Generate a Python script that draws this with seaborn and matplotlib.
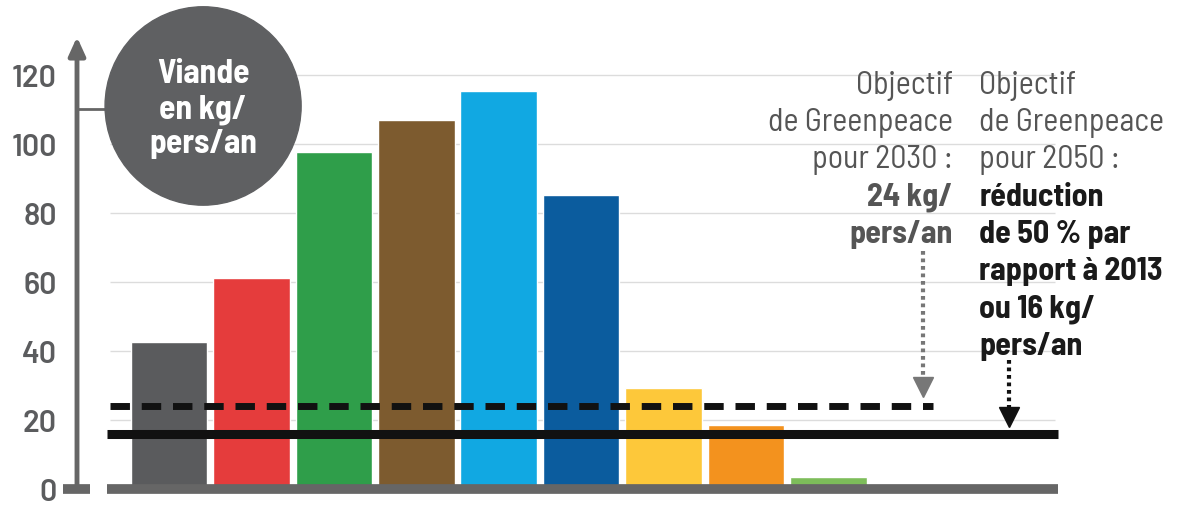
import numpy as np
import pandas as pd
import seaborn as sb
import matplotlib
matplotlib.use('Agg')
import matplotlib.pyplot as plt
from matplotlib.patches import Ellipse

# bar values (kg/pers/an)
categories = ['c1', 'c2', 'c3', 'c4', 'c5', 'c6', 'c7', 'c8', 'c9']
values = [42.6, 61.2, 97.7, 107, 115.4, 85.2, 29.3, 18.6, 3.5]
bar_colors = ['#5a5b5d', '#e53c3c', '#2f9e4a', '#7d5b2f', '#11a8e2',
              '#0b5c9e', '#fdc83a', '#f3921e', '#7dbd5a']
y_ticks = [0, 20, 40, 60, 80, 100, 120]
goal_2030 = 24
goal_2050 = 16
circle_lines = ["Viande", "en kg/", "pers/an"]
lines_2030 = ["Objectif", "de Greenpeace", "pour 2030 :", "24 kg/", "pers/an"]
lines_2050 = ["Objectif", "de Greenpeace", "pour 2050 :", "réduction",
              "de 50 % par", "rapport à 2013", "ou 16 kg/", "pers/an"]

sb.set_style("white")
plt.rcParams['font.family'] = ['Barlow Semi Condensed', 'DejaVu Sans']

grey = '#5f6062'
df = pd.DataFrame({'cat': categories, 'val': values})

fig = plt.figure(figsize=(11.82, 5.06), dpi=100)
ax = fig.add_axes([77 / 1182, 0, 983 / 1182, 1])

# grid lines
ax.hlines(y_ticks[1:], -0.716, 10.75, color='#dcdcdc', lw=1, zorder=0)

sb.barplot(data=df, x='cat', y='val', hue='cat', palette=bar_colors,
           width=0.93, legend=False, saturation=1, ax=ax, zorder=2)
x0, x1 = -1.117, 10.81
ax.set_xlim(x0, x1)
ax.set_ylim(-4.64, 142.0)

# baseline
ax.plot([-0.75, 10.79], [0, 0], color='#666666', lw=7, solid_capstyle='butt', zorder=3)

# goal lines
ax.plot([-0.72, 9.27], [goal_2030, goal_2030], color='#111111', lw=5,
        dashes=(2.8, 1.7), zorder=4)
ax.plot([-0.75, 10.79], [goal_2050, goal_2050], color='#111111', lw=6.5,
        solid_capstyle='butt', zorder=4)

# y axis with arrow
ax.annotate('', xy=(x0, 131), xytext=(x0, 0),
            arrowprops=dict(arrowstyle='-|>,head_width=0.5,head_length=1.1',
                            color='#666666', lw=3.5, shrinkA=0, shrinkB=0),
            annotation_clip=False, zorder=5)
ax.set_yticks(y_ticks)
ax.set_yticklabels([str(t) for t in y_ticks], fontsize=22, color='#5b5c5e',
                   fontweight='semibold', family=['Barlow', 'DejaVu Sans'])
ax.tick_params(axis='y', direction='inout', length=19, width=1, color='#d0d0d0', pad=5)
ax.set_xticks([])
ax.set_xlabel('')
ax.set_ylabel('')
for s in ax.spines.values():
    s.set_visible(False)
# thick zero tick
ax.plot([x0 - 0.17, x0 + 0.16], [0, 0], color='#666666', lw=7,
        solid_capstyle='butt', clip_on=False, zorder=5)

# label circle
ax.plot([x0, 0.413], [110, 110], color='#666666', lw=2, zorder=5)
ax.add_patch(Ellipse((0.413, 111.0), 2.379, 57.5, color=grey, zorder=6))
for i, t in enumerate(circle_lines):
    ax.text(0.413, 117.9 - i * 10.1, t, color='white', fontsize=24, fontweight='bold',
            ha='center', va='baseline', zorder=7)

# annotation texts, one line at a time
top, step = 114.8, 10.8
for i, t in enumerate(lines_2030):
    bold = i >= 3
    ax.text(9.51, top - i * step, t, ha='right', va='baseline', fontsize=23,
            color='#555555', fontweight='bold' if bold else 'normal')
for i, t in enumerate(lines_2050):
    bold = i >= 3
    ax.text(9.83, top - i * step, t, ha='left', va='baseline', fontsize=23,
            color='#1a1a1a' if bold else '#555555',
            fontweight='bold' if bold else 'normal')

# dotted arrows
ax.plot([9.15, 9.15], [69, 29], color='#777777', lw=3, dashes=(0.9, 0.9), zorder=4)
ax.plot([9.15], [29.5], marker='v', color='#777777', markersize=15, zorder=5)
ax.plot([10.19, 10.19], [37.4, 21], color='#111111', lw=3, dashes=(0.9, 0.9), zorder=4)
ax.plot([10.19], [21.0], marker='v', color='#111111', markersize=15, zorder=5)

fig.savefig('out.png', dpi=100)
